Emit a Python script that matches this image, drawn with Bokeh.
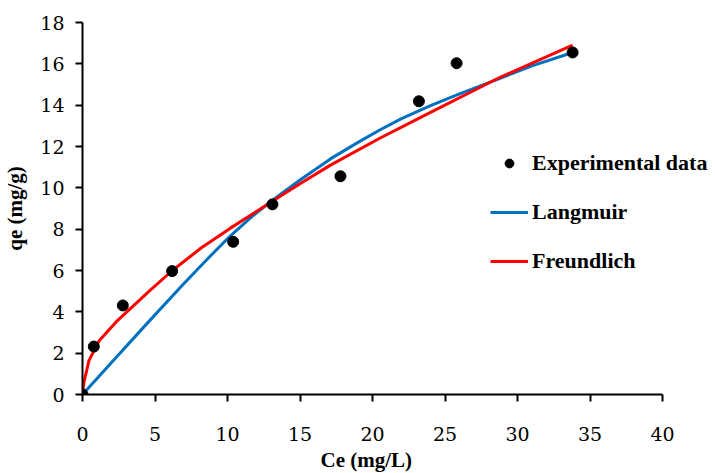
from bokeh.plotting import figure
from bokeh.models import Range1d, Legend, LegendItem, FixedTicker, Title
from bokeh.embed import file_html
from bokeh.resources import INLINE

# Experimental data
ce_exp = [0, 0.78, 2.78, 6.18, 10.39, 13.1, 17.79, 23.2, 25.8, 33.8]
qe_exp = [0, 2.32, 4.31, 5.97, 7.39, 9.2, 10.56, 14.19, 16.03, 16.55]

# Langmuir model curve
ce_lang = [0, 0.8, 2.3, 4.6, 6.9, 8.7, 10.2, 11.7, 13.2, 15.0, 17.1, 19.0, 20.5, 22.0, 24.0, 26.0, 28.8, 31.0, 33.8]
qe_lang = [0, 0.62, 1.78, 3.55, 5.3, 6.62, 7.68, 8.62, 9.45, 10.38, 11.4, 12.2, 12.8, 13.35, 13.98, 14.55, 15.3, 15.9, 16.55]

# Freundlich model curve
ce_freu = [0, 0.1, 0.45, 1.15, 2.3, 4.6, 6.2, 8.2, 10.2, 13.2, 15.0, 17.1, 20.5, 24.0, 28.8, 33.8]
qe_freu = [0, 0.6, 1.65, 2.6, 3.5, 5.0, 6.0, 7.1, 8.05, 9.4, 10.2, 11.1, 12.4, 13.65, 15.35, 16.9]

x_ticks = [0, 5, 10, 15, 20, 25, 30, 35, 40]
y_ticks = [0, 2, 4, 6, 8, 10, 12, 14, 16, 18]

FONT = "'Liberation Serif', 'Times New Roman', serif"
TICK_FONT = "DejaVu Serif"

# frame spans from x=82 to the right edge; axis drawn only over 0..40
X_END = 40 * (715 - 82) / 580.0

p = figure(width=715, height=473, output_backend="svg", toolbar_location=None,
           x_range=Range1d(0, X_END), y_range=Range1d(0, 18),
           min_border_left=82, min_border_right=0, min_border_top=22, min_border_bottom=79)
p.outline_line_color = None
p.xgrid.grid_line_color = None
p.ygrid.grid_line_color = None
p.background_fill_color = "white"
p.xaxis.bounds = (0, 40)

for ax in (p.xaxis[0], p.yaxis[0]):
    ax.axis_line_width = 2
    ax.axis_line_color = "black"
    ax.major_tick_line_width = 2
    ax.major_tick_line_color = "black"
    ax.major_tick_out = 7
    ax.major_tick_in = 0
    ax.minor_tick_line_color = None
    ax.major_label_text_color = "black"
    ax.major_label_text_font = TICK_FONT
    ax.major_label_text_font_size = "19px"
    ax.major_label_text_font_style = "normal"
    ax.axis_label_text_font = FONT
    ax.axis_label_text_font_size = "21px"
    ax.axis_label_text_font_style = "bold"
    ax.axis_label_text_color = "black"

p.xaxis.ticker = FixedTicker(ticks=x_ticks)
p.yaxis.ticker = FixedTicker(ticks=y_ticks)
p.yaxis.axis_label = "qe (mg/g)"
p.xaxis.major_label_standoff = 25
p.yaxis.major_label_standoff = 11
p.yaxis.axis_label_standoff = 10

xlabel = Title(text="Ce (mg/L)", align="left", offset=238, standoff=4,
               text_font=FONT, text_font_size="21px", text_font_style="bold",
               text_color="black")
p.add_layout(xlabel, "below")

r_lang = p.line(ce_lang, qe_lang, line_color="#0070C0", line_width=3)
r_freu = p.line(ce_freu, qe_freu, line_color="#FF0000", line_width=3)
r_exp = p.scatter(ce_exp, qe_exp, size=11, fill_color="black", line_color="black")

legend = Legend(items=[
    LegendItem(label="Experimental data", renderers=[r_exp]),
    LegendItem(label="Langmuir", renderers=[r_lang]),
    LegendItem(label="Freundlich", renderers=[r_freu]),
], location=(408, 120))
legend.label_text_font = FONT
legend.label_text_font_size = "22px"
legend.label_text_font_style = "bold"
legend.label_text_color = "black"
legend.glyph_width = 38
legend.glyph_height = 22
legend.label_height = 22
legend.spacing = 23
legend.padding = 0
legend.margin = 0
legend.label_standoff = 4
legend.border_line_color = None
legend.background_fill_alpha = 0
p.add_layout(legend)

open("out.html", "w").write(file_html(p, INLINE))
